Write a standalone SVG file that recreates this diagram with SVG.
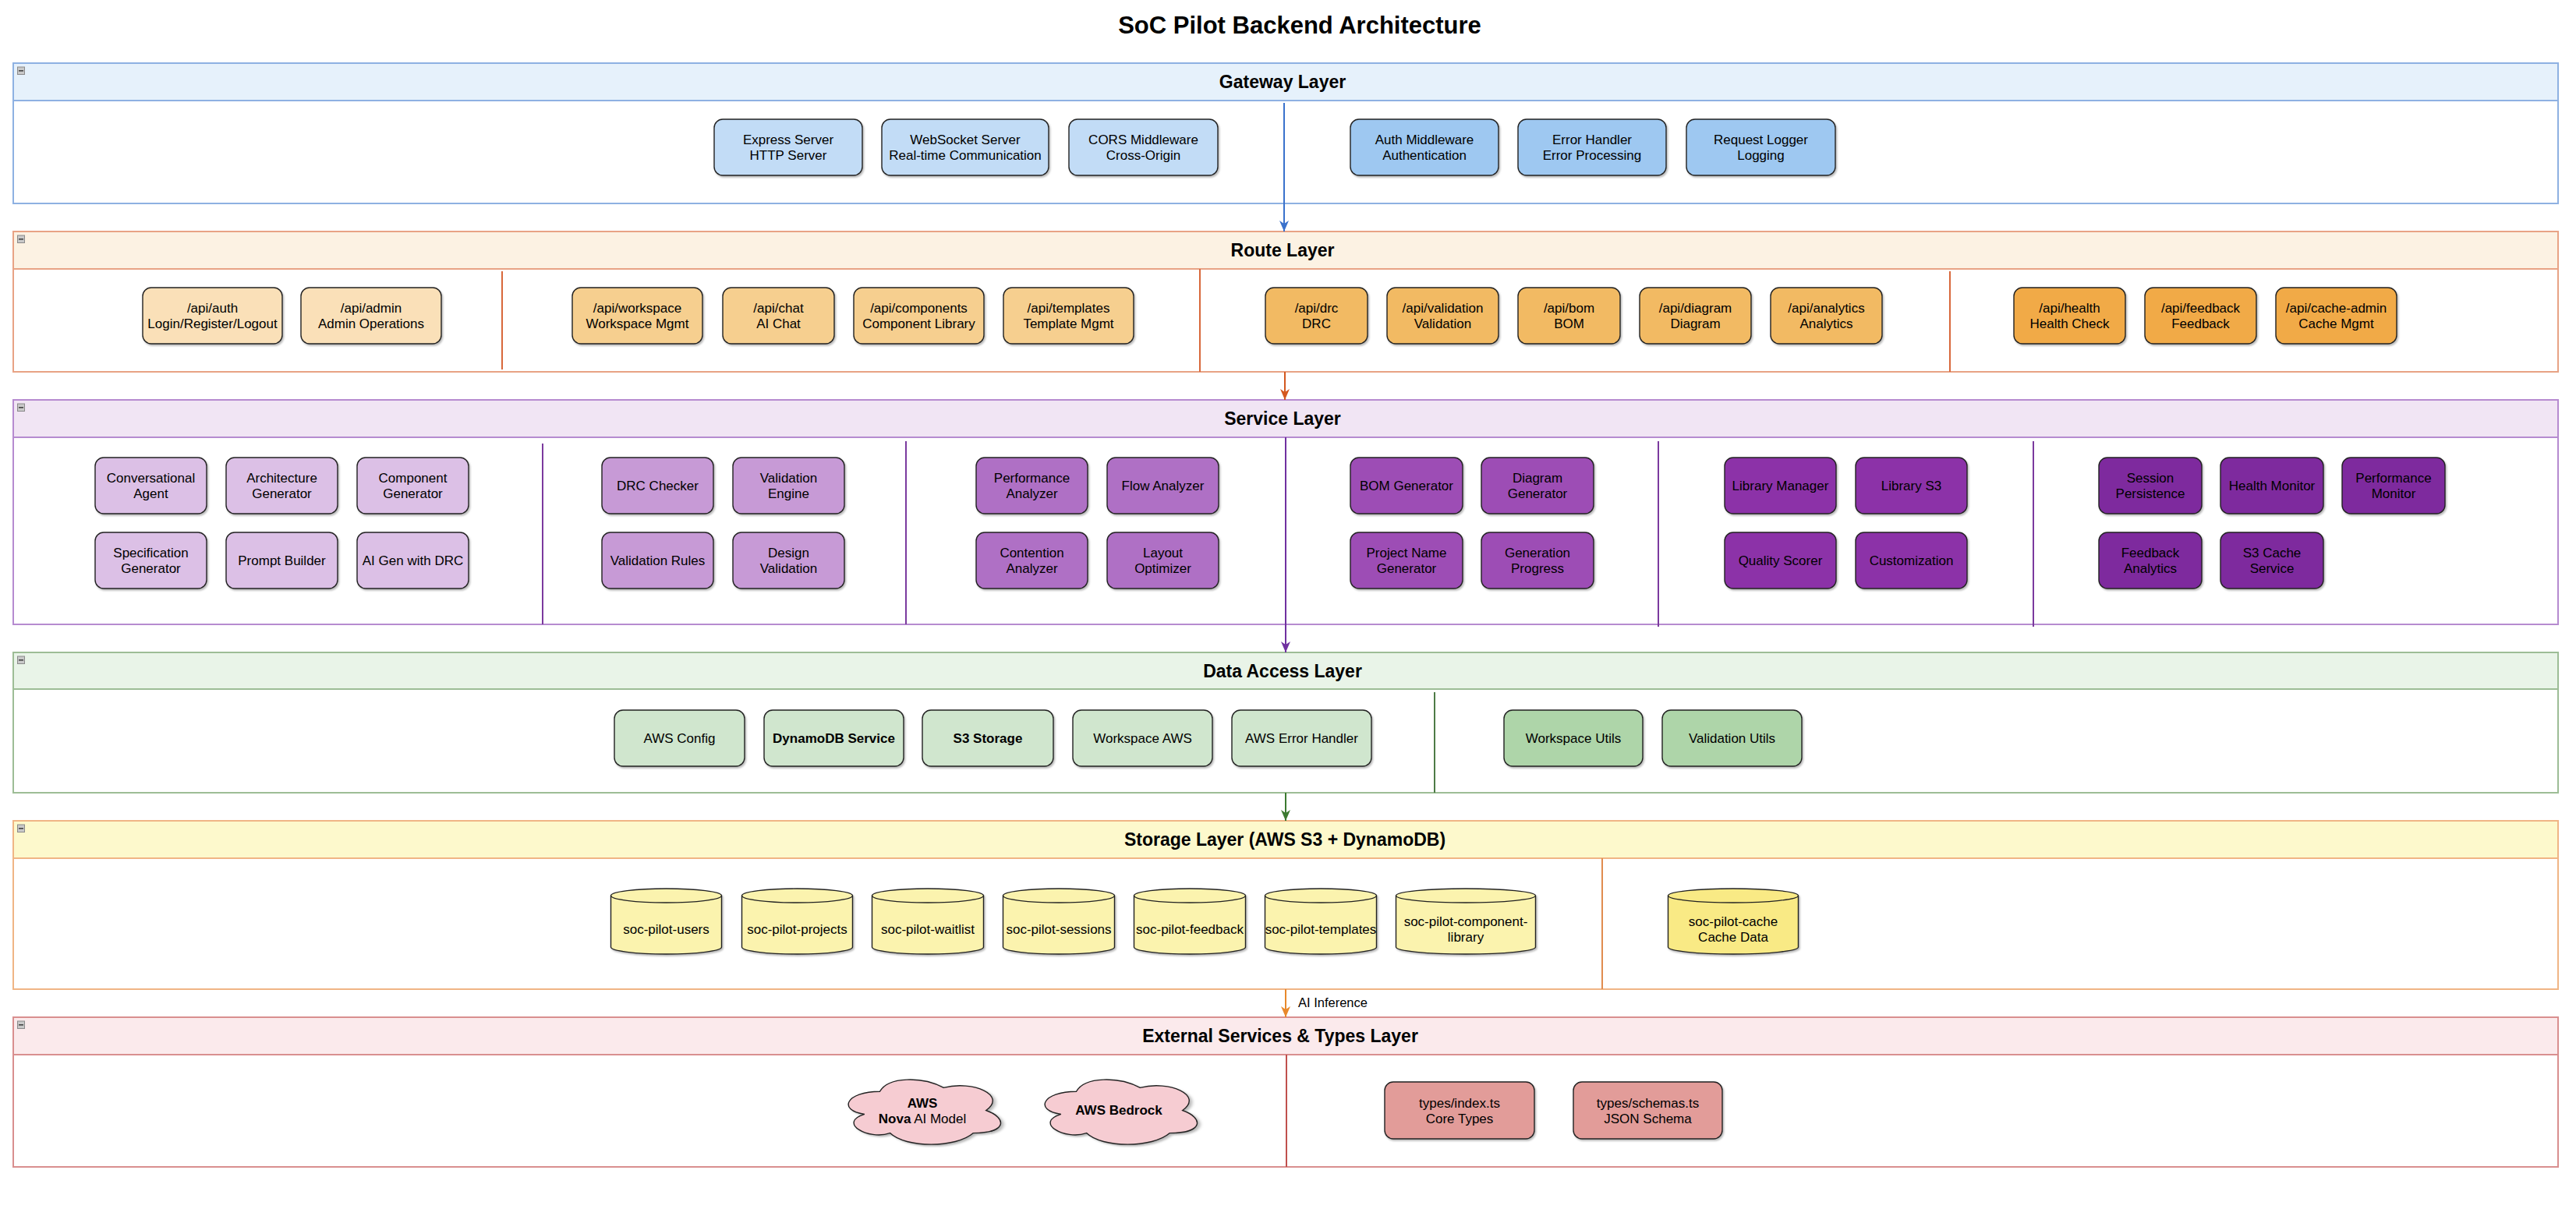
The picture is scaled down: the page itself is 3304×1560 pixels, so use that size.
<svg xmlns="http://www.w3.org/2000/svg" xmlns:xlink="http://www.w3.org/1999/xlink" width="3304" height="1560" viewBox="0 0 3304 1560">
<style>
text { font-family: "Liberation Sans", Arial, Helvetica, sans-serif; fill: #000; }
.t { font-size: 17px; text-anchor: middle; }
.b { font-weight: bold; }
.lt { font-size: 23px; font-weight: bold; text-anchor: middle; }
.title { font-size: 31px; font-weight: bold; text-anchor: middle; }
.box { stroke: #222; stroke-width: 1.4; filter: url(#sh); }
.cont { fill: #fff; stroke-width: 2; }
.div { stroke-width: 2; fill: none; }
.arr { stroke-width: 2; fill: none; }
.lbl { font-size: 16.5px; }
</style>
<defs>
<filter id="sh" x="-10%" y="-10%" width="130%" height="140%">
<feDropShadow dx="1.5" dy="2" stdDeviation="1" flood-color="#000" flood-opacity="0.28"/>
</filter>
<g id="collapse">
<rect x="0" y="0" width="9" height="9.5" fill="#c9c9c9" stroke="#8a8a8a" stroke-width="1"/>
<rect x="1.5" y="4" width="6" height="1.6" fill="#444"/>
</g>
<marker id="mBlue" markerUnits="userSpaceOnUse" markerWidth="14" markerHeight="12" viewBox="0 0 14 12" refX="14" refY="6" orient="auto"><path d="M0,0 L14,6 L0,12 L4,6 Z" fill="#3a72cc"/></marker>
<marker id="mOrange" markerUnits="userSpaceOnUse" markerWidth="14" markerHeight="12" viewBox="0 0 14 12" refX="14" refY="6" orient="auto"><path d="M0,0 L14,6 L0,12 L4,6 Z" fill="#d4581f"/></marker>
<marker id="mPurple" markerUnits="userSpaceOnUse" markerWidth="14" markerHeight="12" viewBox="0 0 14 12" refX="14" refY="6" orient="auto"><path d="M0,0 L14,6 L0,12 L4,6 Z" fill="#7030a0"/></marker>
<marker id="mGreen" markerUnits="userSpaceOnUse" markerWidth="14" markerHeight="12" viewBox="0 0 14 12" refX="14" refY="6" orient="auto"><path d="M0,0 L14,6 L0,12 L4,6 Z" fill="#3c7a30"/></marker>
<marker id="mAmber" markerUnits="userSpaceOnUse" markerWidth="14" markerHeight="12" viewBox="0 0 14 12" refX="14" refY="6" orient="auto"><path d="M0,0 L14,6 L0,12 L4,6 Z" fill="#e8892c"/></marker>
</defs>

<rect x="0" y="0" width="3304" height="1560" fill="#fff"/>
<text class="title" x="1667" y="43">SoC Pilot Backend Architecture</text>

<!-- Layers -->
<g id="layer-gateway">
<rect class="cont" x="17" y="81" width="3264" height="180" stroke="#8eb1e2"/>
<rect x="17" y="81" width="3264" height="48" fill="#e6f1fb" stroke="#8eb1e2" stroke-width="2"/>
<use href="#collapse" x="22.5" y="86"/>
<text class="lt" x="1645" y="113">Gateway Layer</text>
</g>
<g id="layer-route">
<rect class="cont" x="17" y="297" width="3264" height="180" stroke="#e8a385"/>
<rect x="17" y="297" width="3264" height="48" fill="#fcf2e3" stroke="#e8a385" stroke-width="2"/>
<use href="#collapse" x="22.5" y="302"/>
<text class="lt" x="1645" y="329">Route Layer</text>
<path class="div" stroke="#d8683b" d="M644,348 V474 M1539,345 V477 M2501,348 V477"/>
</g>
<g id="layer-service">
<rect class="cont" x="17" y="513" width="3264" height="288" stroke="#b68bd0"/>
<rect x="17" y="513" width="3264" height="48" fill="#f1e5f4" stroke="#b68bd0" stroke-width="2"/>
<use href="#collapse" x="22.5" y="518"/>
<text class="lt" x="1645" y="545">Service Layer</text>
<path class="div" stroke="#7b3a9e" d="M696,569 V801 M1162,566 V801 M2127,566 V804 M2608,566 V804"/>
</g>
<g id="layer-data">
<rect class="cont" x="17" y="837" width="3264" height="180" stroke="#9dbd96"/>
<rect x="17" y="837" width="3264" height="47" fill="#e9f4e8" stroke="#9dbd96" stroke-width="2"/>
<use href="#collapse" x="22.5" y="842"/>
<text class="lt" x="1645" y="869">Data Access Layer</text>
<path class="div" stroke="#4e7b46" d="M1840,888 V1017"/>
</g>
<g id="layer-storage">
<rect class="cont" x="17" y="1053" width="3264" height="216" stroke="#f0b585"/>
<rect x="17" y="1053" width="3264" height="48" fill="#fdf9cc" stroke="#f0b585" stroke-width="2"/>
<use href="#collapse" x="22.5" y="1058"/>
<text class="lt" x="1648" y="1085">Storage Layer (AWS S3 + DynamoDB)</text>
<path class="div" stroke="#e08c4f" d="M2055,1101 V1269"/>
</g>
<g id="layer-external">
<rect class="cont" x="17" y="1305" width="3264" height="192" stroke="#d98f8f"/>
<rect x="17" y="1305" width="3264" height="48" fill="#fbeaec" stroke="#d98f8f" stroke-width="2"/>
<use href="#collapse" x="22.5" y="1310"/>
<text class="lt" x="1642" y="1337">External Services &amp; Types Layer</text>
<path class="div" stroke="#c0504d" d="M1650,1353 V1497"/>
</g>

<!-- Connectors -->
<g id="connectors">
<path class="arr" stroke="#3a72cc" d="M1647,132 V297" marker-end="url(#mBlue)"/>
<path class="arr" stroke="#d4581f" d="M1648,477 V513" marker-end="url(#mOrange)"/>
<path class="arr" stroke="#7030a0" d="M1649,561 V837" marker-end="url(#mPurple)"/>
<path class="arr" stroke="#3c7a30" d="M1649,1017 V1053" marker-end="url(#mGreen)"/>
<path class="arr" stroke="#e8892c" d="M1649,1269 V1305" marker-end="url(#mAmber)"/>
<text class="lbl" x="1665" y="1292">AI Inference</text>
</g>

<!-- Gateway nodes -->
<g id="gw-express"><rect class="box" x="916" y="153" width="190" height="72" rx="11" fill="#c2dcf6"/><text class="t" x="1011" y="185">Express Server<tspan x="1011" y="205">HTTP Server</tspan></text></g>
<g id="gw-websocket"><rect class="box" x="1131" y="153" width="214" height="72" rx="11" fill="#c2dcf6"/><text class="t" x="1238" y="185">WebSocket Server<tspan x="1238" y="205">Real-time Communication</tspan></text></g>
<g id="gw-cors"><rect class="box" x="1371" y="153" width="191" height="72" rx="11" fill="#c2dcf6"/><text class="t" x="1466.5" y="185">CORS Middleware<tspan x="1466.5" y="205">Cross-Origin</tspan></text></g>
<g id="gw-auth"><rect class="box" x="1732" y="153" width="190" height="72" rx="11" fill="#9ec8f1"/><text class="t" x="1827" y="185">Auth Middleware<tspan x="1827" y="205">Authentication</tspan></text></g>
<g id="gw-error"><rect class="box" x="1947" y="153" width="190" height="72" rx="11" fill="#9ec8f1"/><text class="t" x="2042" y="185">Error Handler<tspan x="2042" y="205">Error Processing</tspan></text></g>
<g id="gw-logger"><rect class="box" x="2163" y="153" width="191" height="72" rx="11" fill="#9ec8f1"/><text class="t" x="2258.5" y="185">Request Logger<tspan x="2258.5" y="205">Logging</tspan></text></g>

<!-- Route nodes -->
<g id="rt-auth"><rect class="box" x="183" y="369" width="179" height="72" rx="11" fill="#fae0b8"/><text class="t" x="272.5" y="401">/api/auth<tspan x="272.5" y="421">Login/Register/Logout</tspan></text></g>
<g id="rt-admin"><rect class="box" x="386" y="369" width="180" height="72" rx="11" fill="#fae0b8"/><text class="t" x="476" y="401">/api/admin<tspan x="476" y="421">Admin Operations</tspan></text></g>
<g id="rt-workspace"><rect class="box" x="734" y="369" width="167" height="72" rx="11" fill="#f6cf8f"/><text class="t" x="817.5" y="401">/api/workspace<tspan x="817.5" y="421">Workspace Mgmt</tspan></text></g>
<g id="rt-chat"><rect class="box" x="927" y="369" width="143" height="72" rx="11" fill="#f6cf8f"/><text class="t" x="998.5" y="401">/api/chat<tspan x="998.5" y="421">AI Chat</tspan></text></g>
<g id="rt-components"><rect class="box" x="1095" y="369" width="167" height="72" rx="11" fill="#f6cf8f"/><text class="t" x="1178.5" y="401">/api/components<tspan x="1178.5" y="421">Component Library</tspan></text></g>
<g id="rt-templates"><rect class="box" x="1287" y="369" width="167" height="72" rx="11" fill="#f6cf8f"/><text class="t" x="1370.5" y="401">/api/templates<tspan x="1370.5" y="421">Template Mgmt</tspan></text></g>
<g id="rt-drc"><rect class="box" x="1623" y="369" width="131" height="72" rx="11" fill="#f2ba63"/><text class="t" x="1688.5" y="401">/api/drc<tspan x="1688.5" y="421">DRC</tspan></text></g>
<g id="rt-validation"><rect class="box" x="1779" y="369" width="143" height="72" rx="11" fill="#f2ba63"/><text class="t" x="1850.5" y="401">/api/validation<tspan x="1850.5" y="421">Validation</tspan></text></g>
<g id="rt-bom"><rect class="box" x="1947" y="369" width="131" height="72" rx="11" fill="#f2ba63"/><text class="t" x="2012.5" y="401">/api/bom<tspan x="2012.5" y="421">BOM</tspan></text></g>
<g id="rt-diagram"><rect class="box" x="2103" y="369" width="143" height="72" rx="11" fill="#f2ba63"/><text class="t" x="2174.5" y="401">/api/diagram<tspan x="2174.5" y="421">Diagram</tspan></text></g>
<g id="rt-analytics"><rect class="box" x="2271" y="369" width="143" height="72" rx="11" fill="#f2ba63"/><text class="t" x="2342.5" y="401">/api/analytics<tspan x="2342.5" y="421">Analytics</tspan></text></g>
<g id="rt-health"><rect class="box" x="2583" y="369" width="143" height="72" rx="11" fill="#f1aa46"/><text class="t" x="2654.5" y="401">/api/health<tspan x="2654.5" y="421">Health Check</tspan></text></g>
<g id="rt-feedback"><rect class="box" x="2751" y="369" width="143" height="72" rx="11" fill="#f1aa46"/><text class="t" x="2822.5" y="401">/api/feedback<tspan x="2822.5" y="421">Feedback</tspan></text></g>
<g id="rt-cacheadmin"><rect class="box" x="2919" y="369" width="155" height="72" rx="11" fill="#f1aa46"/><text class="t" x="2996.5" y="401">/api/cache-admin<tspan x="2996.5" y="421">Cache Mgmt</tspan></text></g>

<!-- Service nodes -->
<g id="sv-conversational"><rect class="box" x="122" y="587" width="143" height="72" rx="11" fill="#dcc0e6"/><text class="t" x="193.5" y="619">Conversational<tspan x="193.5" y="639">Agent</tspan></text></g>
<g id="sv-architecture"><rect class="box" x="290" y="587" width="143" height="72" rx="11" fill="#dcc0e6"/><text class="t" x="361.5" y="619">Architecture<tspan x="361.5" y="639">Generator</tspan></text></g>
<g id="sv-component"><rect class="box" x="458" y="587" width="143" height="72" rx="11" fill="#dcc0e6"/><text class="t" x="529.5" y="619">Component<tspan x="529.5" y="639">Generator</tspan></text></g>
<g id="sv-specification"><rect class="box" x="122" y="683" width="143" height="72" rx="11" fill="#dcc0e6"/><text class="t" x="193.5" y="715">Specification<tspan x="193.5" y="735">Generator</tspan></text></g>
<g id="sv-prompt"><rect class="box" x="290" y="683" width="143" height="72" rx="11" fill="#dcc0e6"/><text class="t" x="361.5" y="725">Prompt Builder</text></g>
<g id="sv-aigen"><rect class="box" x="458" y="683" width="143" height="72" rx="11" fill="#dcc0e6"/><text class="t" x="529.5" y="725">AI Gen with DRC</text></g>

<g id="sv-drc"><rect class="box" x="772" y="587" width="143" height="72" rx="11" fill="#c79ad6"/><text class="t" x="843.5" y="629">DRC Checker</text></g>
<g id="sv-valengine"><rect class="box" x="940" y="587" width="143" height="72" rx="11" fill="#c79ad6"/><text class="t" x="1011.5" y="619">Validation<tspan x="1011.5" y="639">Engine</tspan></text></g>
<g id="sv-valrules"><rect class="box" x="772" y="683" width="143" height="72" rx="11" fill="#c79ad6"/><text class="t" x="843.5" y="725">Validation Rules</text></g>
<g id="sv-designval"><rect class="box" x="940" y="683" width="143" height="72" rx="11" fill="#c79ad6"/><text class="t" x="1011.5" y="715">Design<tspan x="1011.5" y="735">Validation</tspan></text></g>

<g id="sv-perf"><rect class="box" x="1252" y="587" width="143" height="72" rx="11" fill="#af6fc5"/><text class="t" x="1323.5" y="619">Performance<tspan x="1323.5" y="639">Analyzer</tspan></text></g>
<g id="sv-flow"><rect class="box" x="1420" y="587" width="143" height="72" rx="11" fill="#af6fc5"/><text class="t" x="1491.5" y="629">Flow Analyzer</text></g>
<g id="sv-contention"><rect class="box" x="1252" y="683" width="143" height="72" rx="11" fill="#af6fc5"/><text class="t" x="1323.5" y="715">Contention<tspan x="1323.5" y="735">Analyzer</tspan></text></g>
<g id="sv-layout"><rect class="box" x="1420" y="683" width="143" height="72" rx="11" fill="#af6fc5"/><text class="t" x="1491.5" y="715">Layout<tspan x="1491.5" y="735">Optimizer</tspan></text></g>

<g id="sv-bom"><rect class="box" x="1732" y="587" width="144" height="72" rx="11" fill="#9d4db5"/><text class="t" x="1804" y="629">BOM Generator</text></g>
<g id="sv-diagram"><rect class="box" x="1900" y="587" width="144" height="72" rx="11" fill="#9d4db5"/><text class="t" x="1972" y="619">Diagram<tspan x="1972" y="639">Generator</tspan></text></g>
<g id="sv-projectname"><rect class="box" x="1732" y="683" width="144" height="72" rx="11" fill="#9d4db5"/><text class="t" x="1804" y="715">Project Name<tspan x="1804" y="735">Generator</tspan></text></g>
<g id="sv-genprogress"><rect class="box" x="1900" y="683" width="144" height="72" rx="11" fill="#9d4db5"/><text class="t" x="1972" y="715">Generation<tspan x="1972" y="735">Progress</tspan></text></g>

<g id="sv-libmanager"><rect class="box" x="2212" y="587" width="143" height="72" rx="11" fill="#8c33a8"/><text class="t" x="2283.5" y="629">Library Manager</text></g>
<g id="sv-libs3"><rect class="box" x="2380" y="587" width="143" height="72" rx="11" fill="#8c33a8"/><text class="t" x="2451.5" y="629">Library S3</text></g>
<g id="sv-quality"><rect class="box" x="2212" y="683" width="143" height="72" rx="11" fill="#8c33a8"/><text class="t" x="2283.5" y="725">Quality Scorer</text></g>
<g id="sv-custom"><rect class="box" x="2380" y="683" width="143" height="72" rx="11" fill="#8c33a8"/><text class="t" x="2451.5" y="725">Customization</text></g>

<g id="sv-session"><rect class="box" x="2692" y="587" width="132" height="72" rx="11" fill="#7e2b9e"/><text class="t" x="2758" y="619">Session<tspan x="2758" y="639">Persistence</tspan></text></g>
<g id="sv-healthmon"><rect class="box" x="2848" y="587" width="132" height="72" rx="11" fill="#7e2b9e"/><text class="t" x="2914" y="629">Health Monitor</text></g>
<g id="sv-perfmon"><rect class="box" x="3004" y="587" width="132" height="72" rx="11" fill="#7e2b9e"/><text class="t" x="3070" y="619">Performance<tspan x="3070" y="639">Monitor</tspan></text></g>
<g id="sv-feedback"><rect class="box" x="2692" y="683" width="132" height="72" rx="11" fill="#7e2b9e"/><text class="t" x="2758" y="715">Feedback<tspan x="2758" y="735">Analytics</tspan></text></g>
<g id="sv-s3cache"><rect class="box" x="2848" y="683" width="132" height="72" rx="11" fill="#7e2b9e"/><text class="t" x="2914" y="715">S3 Cache<tspan x="2914" y="735">Service</tspan></text></g>

<!-- Data access nodes -->
<g id="da-awsconfig"><rect class="box" x="788" y="911" width="167" height="72" rx="11" fill="#d0e6ce"/><text class="t" x="871.5" y="953">AWS Config</text></g>
<g id="da-dynamodb"><rect class="box" x="980" y="911" width="179" height="72" rx="11" fill="#d0e6ce"/><text class="t b" x="1069.5" y="953">DynamoDB Service</text></g>
<g id="da-s3"><rect class="box" x="1183" y="911" width="168" height="72" rx="11" fill="#d0e6ce"/><text class="t b" x="1267" y="953">S3 Storage</text></g>
<g id="da-workspaceaws"><rect class="box" x="1376" y="911" width="179" height="72" rx="11" fill="#d0e6ce"/><text class="t" x="1465.5" y="953">Workspace AWS</text></g>
<g id="da-awserror"><rect class="box" x="1580" y="911" width="179" height="72" rx="11" fill="#d0e6ce"/><text class="t" x="1669.5" y="953">AWS Error Handler</text></g>
<g id="da-workspaceutils"><rect class="box" x="1929" y="911" width="178" height="72" rx="11" fill="#aed5a9"/><text class="t" x="2018" y="953">Workspace Utils</text></g>
<g id="da-validationutils"><rect class="box" x="2132" y="911" width="179" height="72" rx="11" fill="#aed5a9"/><text class="t" x="2221.5" y="953">Validation Utils</text></g>

<!-- Storage nodes (cylinders) -->
<g id="st-users"><path class="box" fill="#fbf3ae" d="M783.5,1149 A71,9 0 0 1 925.5,1149 V1215 A71,9 0 0 1 783.5,1215 Z"/><path d="M783.5,1149 A71,9 0 0 0 925.5,1149" fill="none" stroke="#222" stroke-width="1.4"/><text class="t" x="854.5" y="1198">soc-pilot-users</text></g>
<g id="st-projects"><path class="box" fill="#fbf3ae" d="M951.5,1149 A71,9 0 0 1 1093.5,1149 V1215 A71,9 0 0 1 951.5,1215 Z"/><path d="M951.5,1149 A71,9 0 0 0 1093.5,1149" fill="none" stroke="#222" stroke-width="1.4"/><text class="t" x="1022.5" y="1198">soc-pilot-projects</text></g>
<g id="st-waitlist"><path class="box" fill="#fbf3ae" d="M1118.5,1149 A71.5,9 0 0 1 1261.5,1149 V1215 A71.5,9 0 0 1 1118.5,1215 Z"/><path d="M1118.5,1149 A71.5,9 0 0 0 1261.5,1149" fill="none" stroke="#222" stroke-width="1.4"/><text class="t" x="1190" y="1198">soc-pilot-waitlist</text></g>
<g id="st-sessions"><path class="box" fill="#fbf3ae" d="M1286.5,1149 A71.5,9 0 0 1 1429.5,1149 V1215 A71.5,9 0 0 1 1286.5,1215 Z"/><path d="M1286.5,1149 A71.5,9 0 0 0 1429.5,1149" fill="none" stroke="#222" stroke-width="1.4"/><text class="t" x="1358" y="1198">soc-pilot-sessions</text></g>
<g id="st-feedback"><path class="box" fill="#fbf3ae" d="M1454.5,1149 A71.5,9 0 0 1 1597.5,1149 V1215 A71.5,9 0 0 1 1454.5,1215 Z"/><path d="M1454.5,1149 A71.5,9 0 0 0 1597.5,1149" fill="none" stroke="#222" stroke-width="1.4"/><text class="t" x="1526" y="1198">soc-pilot-feedback</text></g>
<g id="st-templates"><path class="box" fill="#fbf3ae" d="M1622.5,1149 A71.5,9 0 0 1 1765.5,1149 V1215 A71.5,9 0 0 1 1622.5,1215 Z"/><path d="M1622.5,1149 A71.5,9 0 0 0 1765.5,1149" fill="none" stroke="#222" stroke-width="1.4"/><text class="t" x="1694" y="1198">soc-pilot-templates</text></g>
<g id="st-complib"><path class="box" fill="#fbf3ae" d="M1790.5,1149 A89.5,9 0 0 1 1969.5,1149 V1215 A89.5,9 0 0 1 1790.5,1215 Z"/><path d="M1790.5,1149 A89.5,9 0 0 0 1969.5,1149" fill="none" stroke="#222" stroke-width="1.4"/><text class="t" x="1880" y="1188">soc-pilot-component-<tspan x="1880" y="1208">library</tspan></text></g>
<g id="st-cache"><path class="box" fill="#f9ea85" d="M2139.5,1149 A83.5,9 0 0 1 2306.5,1149 V1215 A83.5,9 0 0 1 2139.5,1215 Z"/><path d="M2139.5,1149 A83.5,9 0 0 0 2306.5,1149" fill="none" stroke="#222" stroke-width="1.4"/><text class="t" x="2223" y="1188">soc-pilot-cache<tspan x="2223" y="1208">Cache Data</tspan></text></g>

<!-- External nodes -->
<g id="ex-nova"><path class="box" fill="#f6ccd2" vector-effect="non-scaling-stroke" transform="translate(1074,1376) scale(2.18,0.97)" d="M25,25 C5,25 0,50 16,55 C0,66 18,90 31,80 C40,100 70,100 80,80 C100,80 100,60 87.5,50 C100,30 80,10 62.5,20 C50,5 30,5 25,25 Z"/><text class="t" x="1183" y="1420.5"><tspan class="b">AWS</tspan><tspan x="1183" y="1440.5" class="b">Nova</tspan> AI Model</text></g>
<g id="ex-bedrock"><path class="box" fill="#f6ccd2" vector-effect="non-scaling-stroke" transform="translate(1326,1376) scale(2.18,0.97)" d="M25,25 C5,25 0,50 16,55 C0,66 18,90 31,80 C40,100 70,100 80,80 C100,80 100,60 87.5,50 C100,30 80,10 62.5,20 C50,5 30,5 25,25 Z"/><text class="t b" x="1435" y="1430">AWS Bedrock</text></g>
<g id="ex-typesindex"><rect class="box" x="1776" y="1388" width="192" height="73" rx="11" fill="#e29c99"/><text class="t" x="1872" y="1420.5">types/index.ts<tspan x="1872" y="1440.5">Core Types</tspan></text></g>
<g id="ex-typesschemas"><rect class="box" x="2018" y="1388" width="191" height="73" rx="11" fill="#e29c99"/><text class="t" x="2113.5" y="1420.5">types/schemas.ts<tspan x="2113.5" y="1440.5">JSON Schema</tspan></text></g>
</svg>
